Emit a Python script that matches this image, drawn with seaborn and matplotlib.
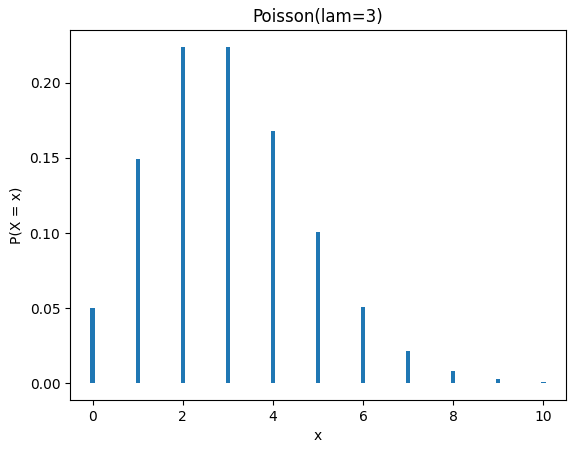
import matplotlib
matplotlib.use("Agg")
import matplotlib.pyplot as plt
import seaborn as sns
import pandas as pd

xs = [0, 1, 2, 3, 4, 5, 6, 7, 8, 9, 10]
pmf = [0.0498, 0.1494, 0.2240, 0.2240, 0.1680, 0.1008, 0.0504, 0.0216, 0.0081, 0.0027, 0.0008]

df = pd.DataFrame({"x": xs, "p": pmf})

fig = plt.figure(figsize=(5.76, 4.53), dpi=100)
ax = fig.add_axes([70 / 576, 1 - 400 / 453, 496 / 576, 370 / 453])
sns.barplot(data=df, x="x", y="p", native_scale=True, width=0.092,
            color="#1f77b4", saturation=1, ax=ax)
ax.set_xlim(-0.5, 10.5)
ax.set_ylim(-0.0112, 0.2352)
ax.set_xticks([0, 2, 4, 6, 8, 10])
ax.set_yticks([0.0, 0.05, 0.10, 0.15, 0.20])
ax.set_yticklabels(["0.00", "0.05", "0.10", "0.15", "0.20"])
ax.set_xlabel("x")
ax.set_ylabel("P(X = x)")
ax.set_title("Poisson(lam=3)")
fig.savefig("out.png", dpi=100)
